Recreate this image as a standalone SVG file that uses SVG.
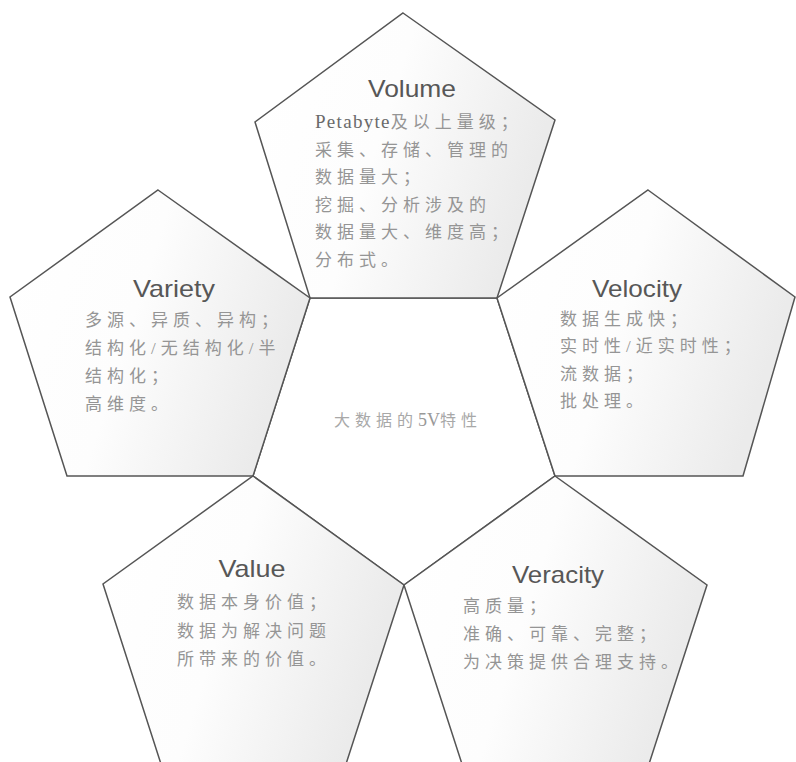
<svg xmlns="http://www.w3.org/2000/svg" width="796" height="762" viewBox="0 0 796 762">
  <defs>
    <linearGradient id="shade" x1="0" y1="0" x2="1" y2="0.3">
      <stop offset="0" stop-color="#ffffff"/>
      <stop offset="0.5" stop-color="#fdfdfd"/>
      <stop offset="1" stop-color="#ebebeb"/>
    </linearGradient>
  </defs>
  <style>
    .pent { fill: url(#shade); stroke: #555555; stroke-width: 1.5; stroke-linejoin: miter; }
    .center { fill: #ffffff; stroke: #555555; stroke-width: 1.5; }
    .title { font-family: "Liberation Sans", Arial, sans-serif; font-size: 24px; fill: #575757; text-anchor: middle; }
    .body { font-family: "Liberation Serif", "Noto Sans CJK SC", serif; font-size: 17px; letter-spacing: 5px; fill: #959595; }
    .lat { font-size: 19px; letter-spacing: 1.3px; fill: #6a6a6a; }
    .ctext { font-family: "Liberation Serif", "Noto Sans CJK SC", serif; font-size: 16px; letter-spacing: 5px; fill: #a8a8a8; text-anchor: middle; }
    .num { font-size: 18px; letter-spacing: 0px; fill: #999999; }
  </style>
  <rect width="796" height="762" fill="#ffffff"/>

  <g id="center">
    <polygon class="center" points="310,298 497,298 555,476 404,585 253,476"/>
    <text class="ctext" x="408" y="426">大数据的<tspan class="num">5V</tspan>特性</text>
  </g>

  <g id="volume">
    <polygon class="pent" points="403,13 555,120 497,298 310,298 255,122"/>
    <text class="title" x="412" y="97" textLength="88" lengthAdjust="spacingAndGlyphs">Volume</text>
    <text class="body" x="315" y="128"><tspan class="lat">Petabyte</tspan>及以上量级；</text>
    <text class="body" x="315" y="156">采集、存储、管理的</text>
    <text class="body" x="315" y="183">数据量大；</text>
    <text class="body" x="315" y="211">挖掘、分析涉及的</text>
    <text class="body" x="315" y="238">数据量大、维度高；</text>
    <text class="body" x="315" y="266">分布式。</text>
  </g>

  <g id="variety">
    <polygon class="pent" points="158,190 310,298 253,476 67,476 10,297"/>
    <text class="title" x="174" y="297" textLength="82" lengthAdjust="spacingAndGlyphs">Variety</text>
    <text class="body" x="85" y="326">多源、异质、异构；</text>
    <text class="body" x="85" y="354">结构化/无结构化/半</text>
    <text class="body" x="85" y="382">结构化；</text>
    <text class="body" x="85" y="410">高维度。</text>
  </g>

  <g id="velocity">
    <polygon class="pent" points="648,190 795,297 743,476 555,476 497,298"/>
    <text class="title" x="637" y="297" textLength="90" lengthAdjust="spacingAndGlyphs">Velocity</text>
    <text class="body" x="560" y="325">数据生成快；</text>
    <text class="body" x="560" y="352">实时性/近实时性；</text>
    <text class="body" x="560" y="380">流数据；</text>
    <text class="body" x="560" y="407">批处理。</text>
  </g>

  <g id="value">
    <polygon class="pent" points="253,476 404,585 346,764 161,764 103,584"/>
    <text class="title" x="252" y="577" textLength="67" lengthAdjust="spacingAndGlyphs">Value</text>
    <text class="body" x="177" y="608">数据本身价值；</text>
    <text class="body" x="177" y="637">数据为解决问题</text>
    <text class="body" x="177" y="665">所带来的价值。</text>
  </g>

  <g id="veracity">
    <polygon class="pent" points="555,476 707,585 649,764 462,764 404,585"/>
    <text class="title" x="558" y="583" textLength="92" lengthAdjust="spacingAndGlyphs">Veracity</text>
    <text class="body" x="463" y="612">高质量；</text>
    <text class="body" x="463" y="640">准确、可靠、完整；</text>
    <text class="body" x="463" y="668">为决策提供合理支持。</text>
  </g>

  <g id="connectors"/>
</svg>
